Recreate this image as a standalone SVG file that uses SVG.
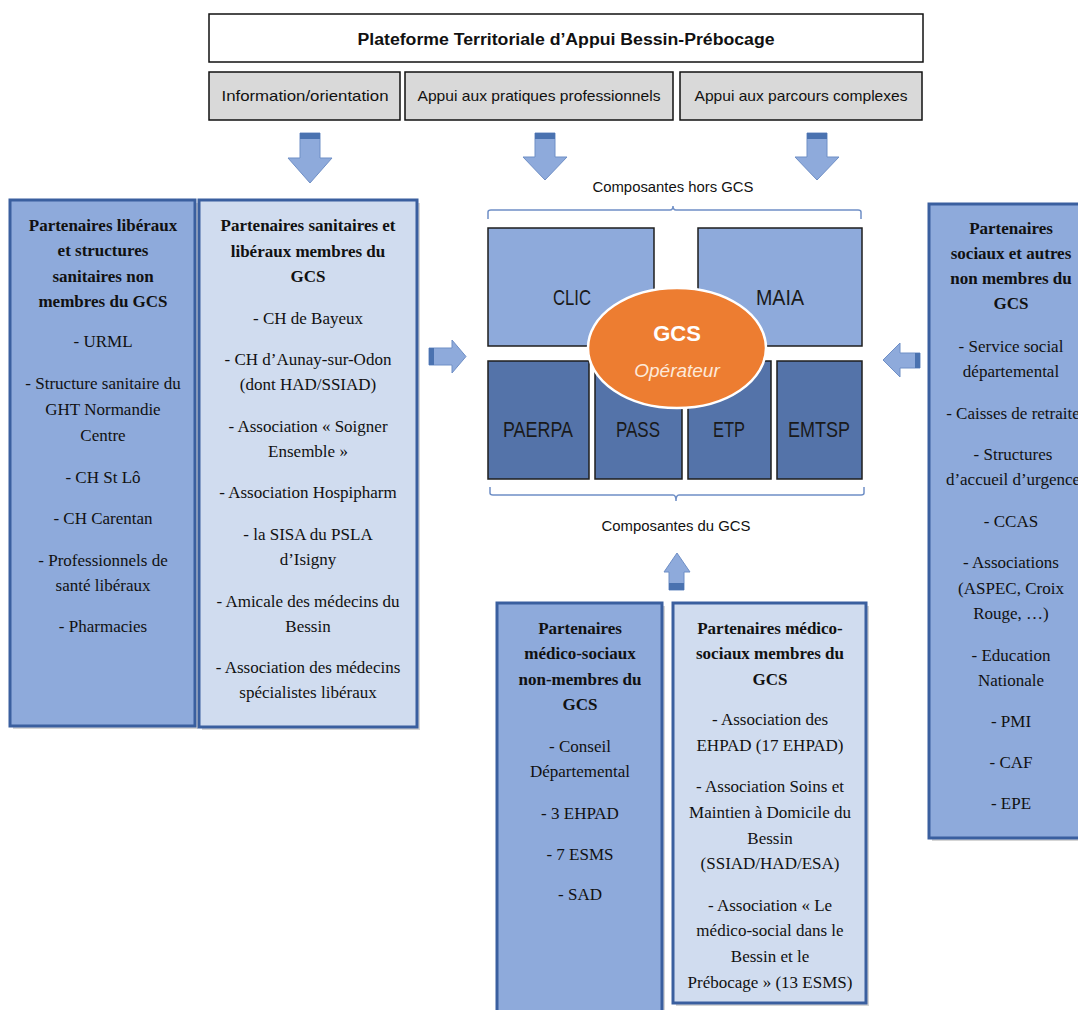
<svg xmlns="http://www.w3.org/2000/svg" width="1078" height="1010" viewBox="0 0 1078 1010">
  <style>
    .sans { font-family: "Liberation Sans", Arial, sans-serif; fill: #111; }
    .serif { font-family: "Liberation Serif", "Times New Roman", serif; font-size: 17px; fill: #111; text-anchor: middle; }
    .bold { font-weight: bold; }
    .head { fill: #ffffff; stroke: #111; stroke-width: 1.5; }
    .mission { fill: #d9d9d9; stroke: #111; stroke-width: 1.5; }
    .comp-light { fill: #8eaadb; stroke: #1e1e1e; stroke-width: 1.5; }
    .comp-dark { fill: #5473a9; stroke: #1e1e1e; stroke-width: 1.5; }
    .partner-dark { fill: #8eaadb; stroke: #3a5f9f; stroke-width: 3; }
    .partner-light { fill: #d0dcef; stroke: #3a5f9f; stroke-width: 3; }
    .shadow { fill: #b9b9b9; opacity: 0.6; }
    .arrow { fill: #8eaadb; stroke: #6f8fc6; stroke-width: 1; }
    .band { fill: #4a72b0; }
    .brace { fill: none; stroke: #6f8fc6; stroke-width: 1.5; }
    .comp-label { font-family: "Liberation Sans", Arial, sans-serif; font-size: 22px; fill: #1a1a1a; text-anchor: middle; }
  </style>

  <!-- Header -->
  <g id="plateforme">
    <rect class="head" x="209" y="14" width="714" height="48"/>
    <text class="sans bold" x="566" y="45" font-size="16" text-anchor="middle" textLength="417" lengthAdjust="spacingAndGlyphs">Plateforme Territoriale d’Appui Bessin-Prébocage</text>
  </g>
  <g id="mission-information">
    <rect class="mission" x="209" y="72" width="191" height="48"/>
    <text class="sans" x="305" y="101" font-size="15" text-anchor="middle" textLength="167" lengthAdjust="spacingAndGlyphs">Information/orientation</text>
  </g>
  <g id="mission-pratiques">
    <rect class="mission" x="405" y="72" width="268" height="48"/>
    <text class="sans" x="539" y="101" font-size="15" text-anchor="middle" textLength="243" lengthAdjust="spacingAndGlyphs">Appui aux pratiques professionnels</text>
  </g>
  <g id="mission-parcours">
    <rect class="mission" x="680" y="72" width="242" height="48"/>
    <text class="sans" x="801" y="101" font-size="15" text-anchor="middle" textLength="213" lengthAdjust="spacingAndGlyphs">Appui aux parcours complexes</text>
  </g>

  <!-- Connectors: block arrows and braces -->
  <g id="connectors">
    <!-- down arrows from the missions -->
    <path class="arrow" d="M300,133 H320 V158 H332 L310,183 L288,158 H300 Z"/>
    <rect class="band" x="300" y="133" width="20" height="6"/>
    <path class="arrow" d="M535,133 H555 V157 H567 L545,180 L523,157 H535 Z"/>
    <rect class="band" x="535" y="133" width="20" height="6"/>
    <path class="arrow" d="M807,133 H827 V157 H839 L817,180 L795,157 H807 Z"/>
    <rect class="band" x="807" y="133" width="20" height="6"/>

    <!-- right arrow from the left partners -->
    <path class="arrow" d="M429,348 H452 V340 L466,356.5 L452,373 V365 H429 Z"/>
    <rect class="band" x="429" y="348" width="5" height="17"/>

    <!-- left arrow from the right partners -->
    <path class="arrow" d="M920,353 H900 V343 L883,360 L900,377 V368 H920 Z"/>
    <rect class="band" x="915" y="353" width="5" height="15"/>

    <!-- up arrow from the medico-social partners -->
    <path class="arrow" d="M669,590 V572 H664 L677,553 L690,572 H684 V590 Z"/>
    <rect class="band" x="669" y="583" width="15" height="7"/>

    <!-- braces -->
    <path class="brace" d="M488,219 V212 Q488,210 491,210 H670 Q673,210 673,206 Q673,210 676,210 H858 Q861,210 861,212 V219"/>
    <path class="brace" d="M490,487 V493 Q490,495 493,495 H673 Q676,495 676,501 Q676,495 679,495 H861 Q864,495 864,493 V487"/>
  </g>

  <text class="sans" x="673" y="192" font-size="14" text-anchor="middle" textLength="161" lengthAdjust="spacingAndGlyphs">Composantes hors GCS</text>
  <text class="sans" x="676" y="531" font-size="14" text-anchor="middle" textLength="149" lengthAdjust="spacingAndGlyphs">Composantes du GCS</text>

  <!-- GCS components -->
  <g id="clic">
    <rect class="comp-light" x="488" y="228" width="166" height="118"/>
    <text class="comp-label" x="572" y="305" textLength="38" lengthAdjust="spacingAndGlyphs">CLIC</text>
  </g>
  <g id="maia">
    <rect class="comp-light" x="698" y="228" width="164" height="118"/>
    <text class="comp-label" x="780" y="305" textLength="48" lengthAdjust="spacingAndGlyphs">MAIA</text>
  </g>
  <g id="paerpa">
    <rect class="comp-dark" x="488" y="361" width="101" height="118"/>
    <text class="comp-label" x="538" y="437" textLength="70" lengthAdjust="spacingAndGlyphs">PAERPA</text>
  </g>
  <g id="pass">
    <rect class="comp-dark" x="595" y="361" width="87" height="118"/>
    <text class="comp-label" x="638" y="437" textLength="44" lengthAdjust="spacingAndGlyphs">PASS</text>
  </g>
  <g id="etp">
    <rect class="comp-dark" x="688" y="361" width="83" height="118"/>
    <text class="comp-label" x="729" y="437" textLength="32" lengthAdjust="spacingAndGlyphs">ETP</text>
  </g>
  <g id="emtsp">
    <rect class="comp-dark" x="777" y="361" width="85" height="118"/>
    <text class="comp-label" x="819" y="437" textLength="62" lengthAdjust="spacingAndGlyphs">EMTSP</text>
  </g>
  <g id="gcs">
    <ellipse cx="677" cy="348" rx="89" ry="60" fill="#ed7d31" stroke="#ffffff" stroke-width="2.5"/>
    <text x="677" y="341" font-family="Liberation Sans, Arial, sans-serif" font-size="22" font-weight="bold" fill="#ffffff" text-anchor="middle">GCS</text>
    <text x="677" y="377" font-family="Liberation Sans, Arial, sans-serif" font-size="19" font-style="italic" fill="#fde9d9" text-anchor="middle">Opérateur</text>
  </g>

  <!-- Left partners: not members -->
  <g id="partenaires-liberaux-non-membres">
    <rect class="shadow" x="13" y="203" width="185" height="526"/>
    <rect class="partner-dark" x="10" y="200" width="185" height="526"/>
    <text class="serif bold" x="103" y="231">Partenaires libéraux</text>
    <text class="serif bold" x="103" y="256">et structures</text>
    <text class="serif bold" x="103" y="282">sanitaires non</text>
    <text class="serif bold" x="103" y="307">membres du GCS</text>
    <text class="serif" x="103" y="347">- URML</text>
    <text class="serif" x="103" y="389">- Structure sanitaire du</text>
    <text class="serif" x="103" y="415">GHT Normandie</text>
    <text class="serif" x="103" y="441">Centre</text>
    <text class="serif" x="103" y="483">- CH St Lô</text>
    <text class="serif" x="103" y="524">- CH Carentan</text>
    <text class="serif" x="103" y="566">- Professionnels de</text>
    <text class="serif" x="103" y="591">santé libéraux</text>
    <text class="serif" x="103" y="632">- Pharmacies</text>
  </g>

  <!-- Left partners: members -->
  <g id="partenaires-sanitaires-membres">
    <rect class="shadow" x="202" y="203" width="218" height="527"/>
    <rect class="partner-light" x="199" y="200" width="218" height="527"/>
    <text class="serif bold" x="308" y="231">Partenaires sanitaires et</text>
    <text class="serif bold" x="308" y="257">libéraux membres du</text>
    <text class="serif bold" x="308" y="282">GCS</text>
    <text class="serif" x="308" y="324">- CH de Bayeux</text>
    <text class="serif" x="308" y="365">- CH d’Aunay-sur-Odon</text>
    <text class="serif" x="308" y="390">(dont HAD/SSIAD)</text>
    <text class="serif" x="308" y="432">- Association « Soigner</text>
    <text class="serif" x="308" y="457">Ensemble »</text>
    <text class="serif" x="308" y="498">- Association Hospipharm</text>
    <text class="serif" x="308" y="540">- la SISA du PSLA</text>
    <text class="serif" x="308" y="565">d’Isigny</text>
    <text class="serif" x="308" y="607">- Amicale des médecins du</text>
    <text class="serif" x="308" y="632">Bessin</text>
    <text class="serif" x="308" y="673">- Association des médecins</text>
    <text class="serif" x="308" y="698">spécialistes libéraux</text>
  </g>

  <!-- Right partners -->
  <g id="partenaires-sociaux">
    <rect class="shadow" x="932" y="207" width="160" height="634"/>
    <rect class="partner-dark" x="929" y="204" width="160" height="634"/>
    <text class="serif bold" x="1011" y="234">Partenaires</text>
    <text class="serif bold" x="1011" y="259">sociaux et autres</text>
    <text class="serif bold" x="1011" y="284">non membres du</text>
    <text class="serif bold" x="1011" y="309">GCS</text>
    <text class="serif" x="1011" y="352">- Service social</text>
    <text class="serif" x="1011" y="377">départemental</text>
    <text class="serif" x="1013" y="419">- Caisses de retraite</text>
    <text class="serif" x="1013" y="460">- Structures</text>
    <text class="serif" x="1013" y="485">d’accueil d’urgence</text>
    <text class="serif" x="1011" y="527">- CCAS</text>
    <text class="serif" x="1011" y="568">- Associations</text>
    <text class="serif" x="1011" y="594">(ASPEC, Croix</text>
    <text class="serif" x="1011" y="619">Rouge, …)</text>
    <text class="serif" x="1011" y="661">- Education</text>
    <text class="serif" x="1011" y="686">Nationale</text>
    <text class="serif" x="1011" y="727">- PMI</text>
    <text class="serif" x="1011" y="768">- CAF</text>
    <text class="serif" x="1011" y="809">- EPE</text>
  </g>

  <!-- Bottom partners: medico-social, not members -->
  <g id="partenaires-medico-sociaux-non-membres">
    <rect class="shadow" x="500" y="606" width="165" height="420"/>
    <rect class="partner-dark" x="497" y="603" width="165" height="420"/>
    <text class="serif bold" x="580" y="634">Partenaires</text>
    <text class="serif bold" x="580" y="659">médico-sociaux</text>
    <text class="serif bold" x="580" y="685">non-membres du</text>
    <text class="serif bold" x="580" y="710">GCS</text>
    <text class="serif" x="580" y="752">- Conseil</text>
    <text class="serif" x="580" y="777">Départemental</text>
    <text class="serif" x="580" y="819">- 3 EHPAD</text>
    <text class="serif" x="580" y="860">- 7 ESMS</text>
    <text class="serif" x="580" y="900">- SAD</text>
  </g>

  <!-- Bottom partners: medico-social members -->
  <g id="partenaires-medico-sociaux-membres">
    <rect class="shadow" x="676" y="606" width="193" height="400"/>
    <rect class="partner-light" x="673" y="603" width="193" height="400"/>
    <text class="serif bold" x="770" y="634">Partenaires médico-</text>
    <text class="serif bold" x="770" y="659">sociaux membres du</text>
    <text class="serif bold" x="770" y="685">GCS</text>
    <text class="serif" x="770" y="725">- Association des</text>
    <text class="serif" x="770" y="751">EHPAD (17 EHPAD)</text>
    <text class="serif" x="770" y="792">- Association Soins et</text>
    <text class="serif" x="770" y="818">Maintien à Domicile du</text>
    <text class="serif" x="770" y="844">Bessin</text>
    <text class="serif" x="770" y="869">(SSIAD/HAD/ESA)</text>
    <text class="serif" x="770" y="911">- Association « Le</text>
    <text class="serif" x="770" y="936">médico-social dans le</text>
    <text class="serif" x="770" y="962">Bessin et le</text>
    <text class="serif" x="770" y="988">Prébocage » (13 ESMS)</text>
  </g>
</svg>
